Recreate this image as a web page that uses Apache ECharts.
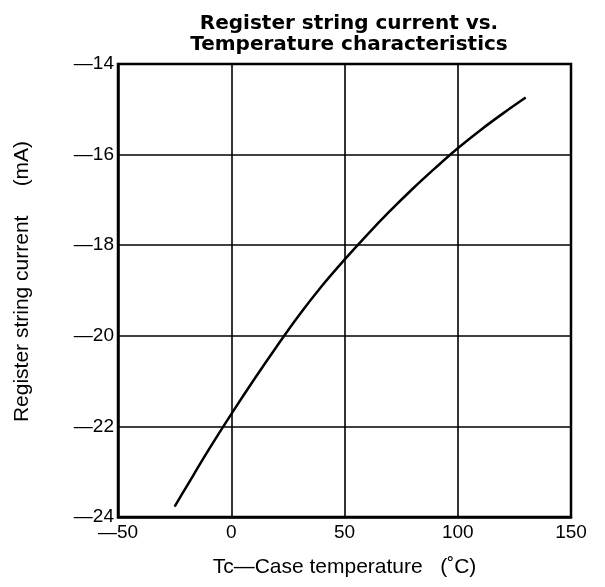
<!DOCTYPE html>
<html><head><meta charset="utf-8">
<script src="https://cdn.jsdelivr.net/npm/echarts@6/dist/echarts.min.js"></script>
<style>html,body{margin:0;padding:0;background:#fff}#c{width:605px;height:587px}</style>
</head><body><div id="c"></div>
<script>
const titleLines = ['Register string current vs.', 'Temperature characteristics'];
const xName = 'Tc\u2014Case temperature   (\u02daC)';
const yName = 'Register string current     (mA)';
const temps = [-25, -20, -10, 0, 10, 20, 30, 40, 50, 60, 70, 80, 90, 100, 110, 120, 130];
const currents = [-23.77, -23.35, -22.52, -21.73, -20.97, -20.24, -19.54, -18.9, -18.32, -17.77, -17.25, -16.76, -16.3, -15.86, -15.46, -15.09, -14.74];
const xTicks = [-50, 0, 50, 100, 150];
const yTicks = [-24, -22, -20, -18, -16, -14];

const fmt = v => (v < 0 ? '\u2014' + Math.abs(v) : String(v));
const font = 'Liberation Sans, Arial, sans-serif';
const chart = echarts.init(document.getElementById('c'));
chart.setOption({
  animation: false,
  backgroundColor: '#fff',
  title: {
    text: titleLines.join('\n'),
    left: 344, top: 8, textAlign: 'center',
    textStyle: { fontFamily: 'DejaVu Sans', fontWeight: 'bold', fontSize: 20, lineHeight: 21, color: '#000' }
  },
  grid: { left: 118, right: 34, top: 64, bottom: 70, show: true, borderColor: '#000', borderWidth: 2.5 },
  xAxis: {
    type: 'value', min: xTicks[0], max: xTicks[xTicks.length - 1], interval: 50,
    name: xName, nameLocation: 'middle', nameGap: 40,
    nameTextStyle: { fontFamily: font, fontSize: 21, color: '#000' },
    axisLine: { show: true, onZero: false, lineStyle: { color: '#000', width: 2.5 } },
    axisTick: { show: false },
    axisLabel: { formatter: fmt, fontFamily: font, fontSize: 19, color: '#000', margin: 6 },
    splitLine: { show: true, lineStyle: { color: '#000', width: 1.6 } }
  },
  yAxis: {
    type: 'value', min: yTicks[0], max: yTicks[yTicks.length - 1], interval: 2,
    name: yName, nameLocation: 'middle', nameGap: 85, nameRotate: 90,
    nameTextStyle: { fontFamily: font, fontSize: 21, color: '#000', padding: [0, 0, 0, 18] },
    axisLine: { show: true, onZero: false, lineStyle: { color: '#000', width: 2.5 } },
    axisTick: { show: false },
    axisLabel: { formatter: fmt, fontFamily: font, fontSize: 19, color: '#000', margin: 4 },
    splitLine: { show: true, lineStyle: { color: '#000', width: 1.6 } }
  },
  series: [{
    type: 'line', smooth: 0.4, symbol: 'none',
    data: temps.map((t, i) => [t, currents[i]]),
    lineStyle: { color: '#000', width: 2.5 }
  }]
});
</script></body></html>
